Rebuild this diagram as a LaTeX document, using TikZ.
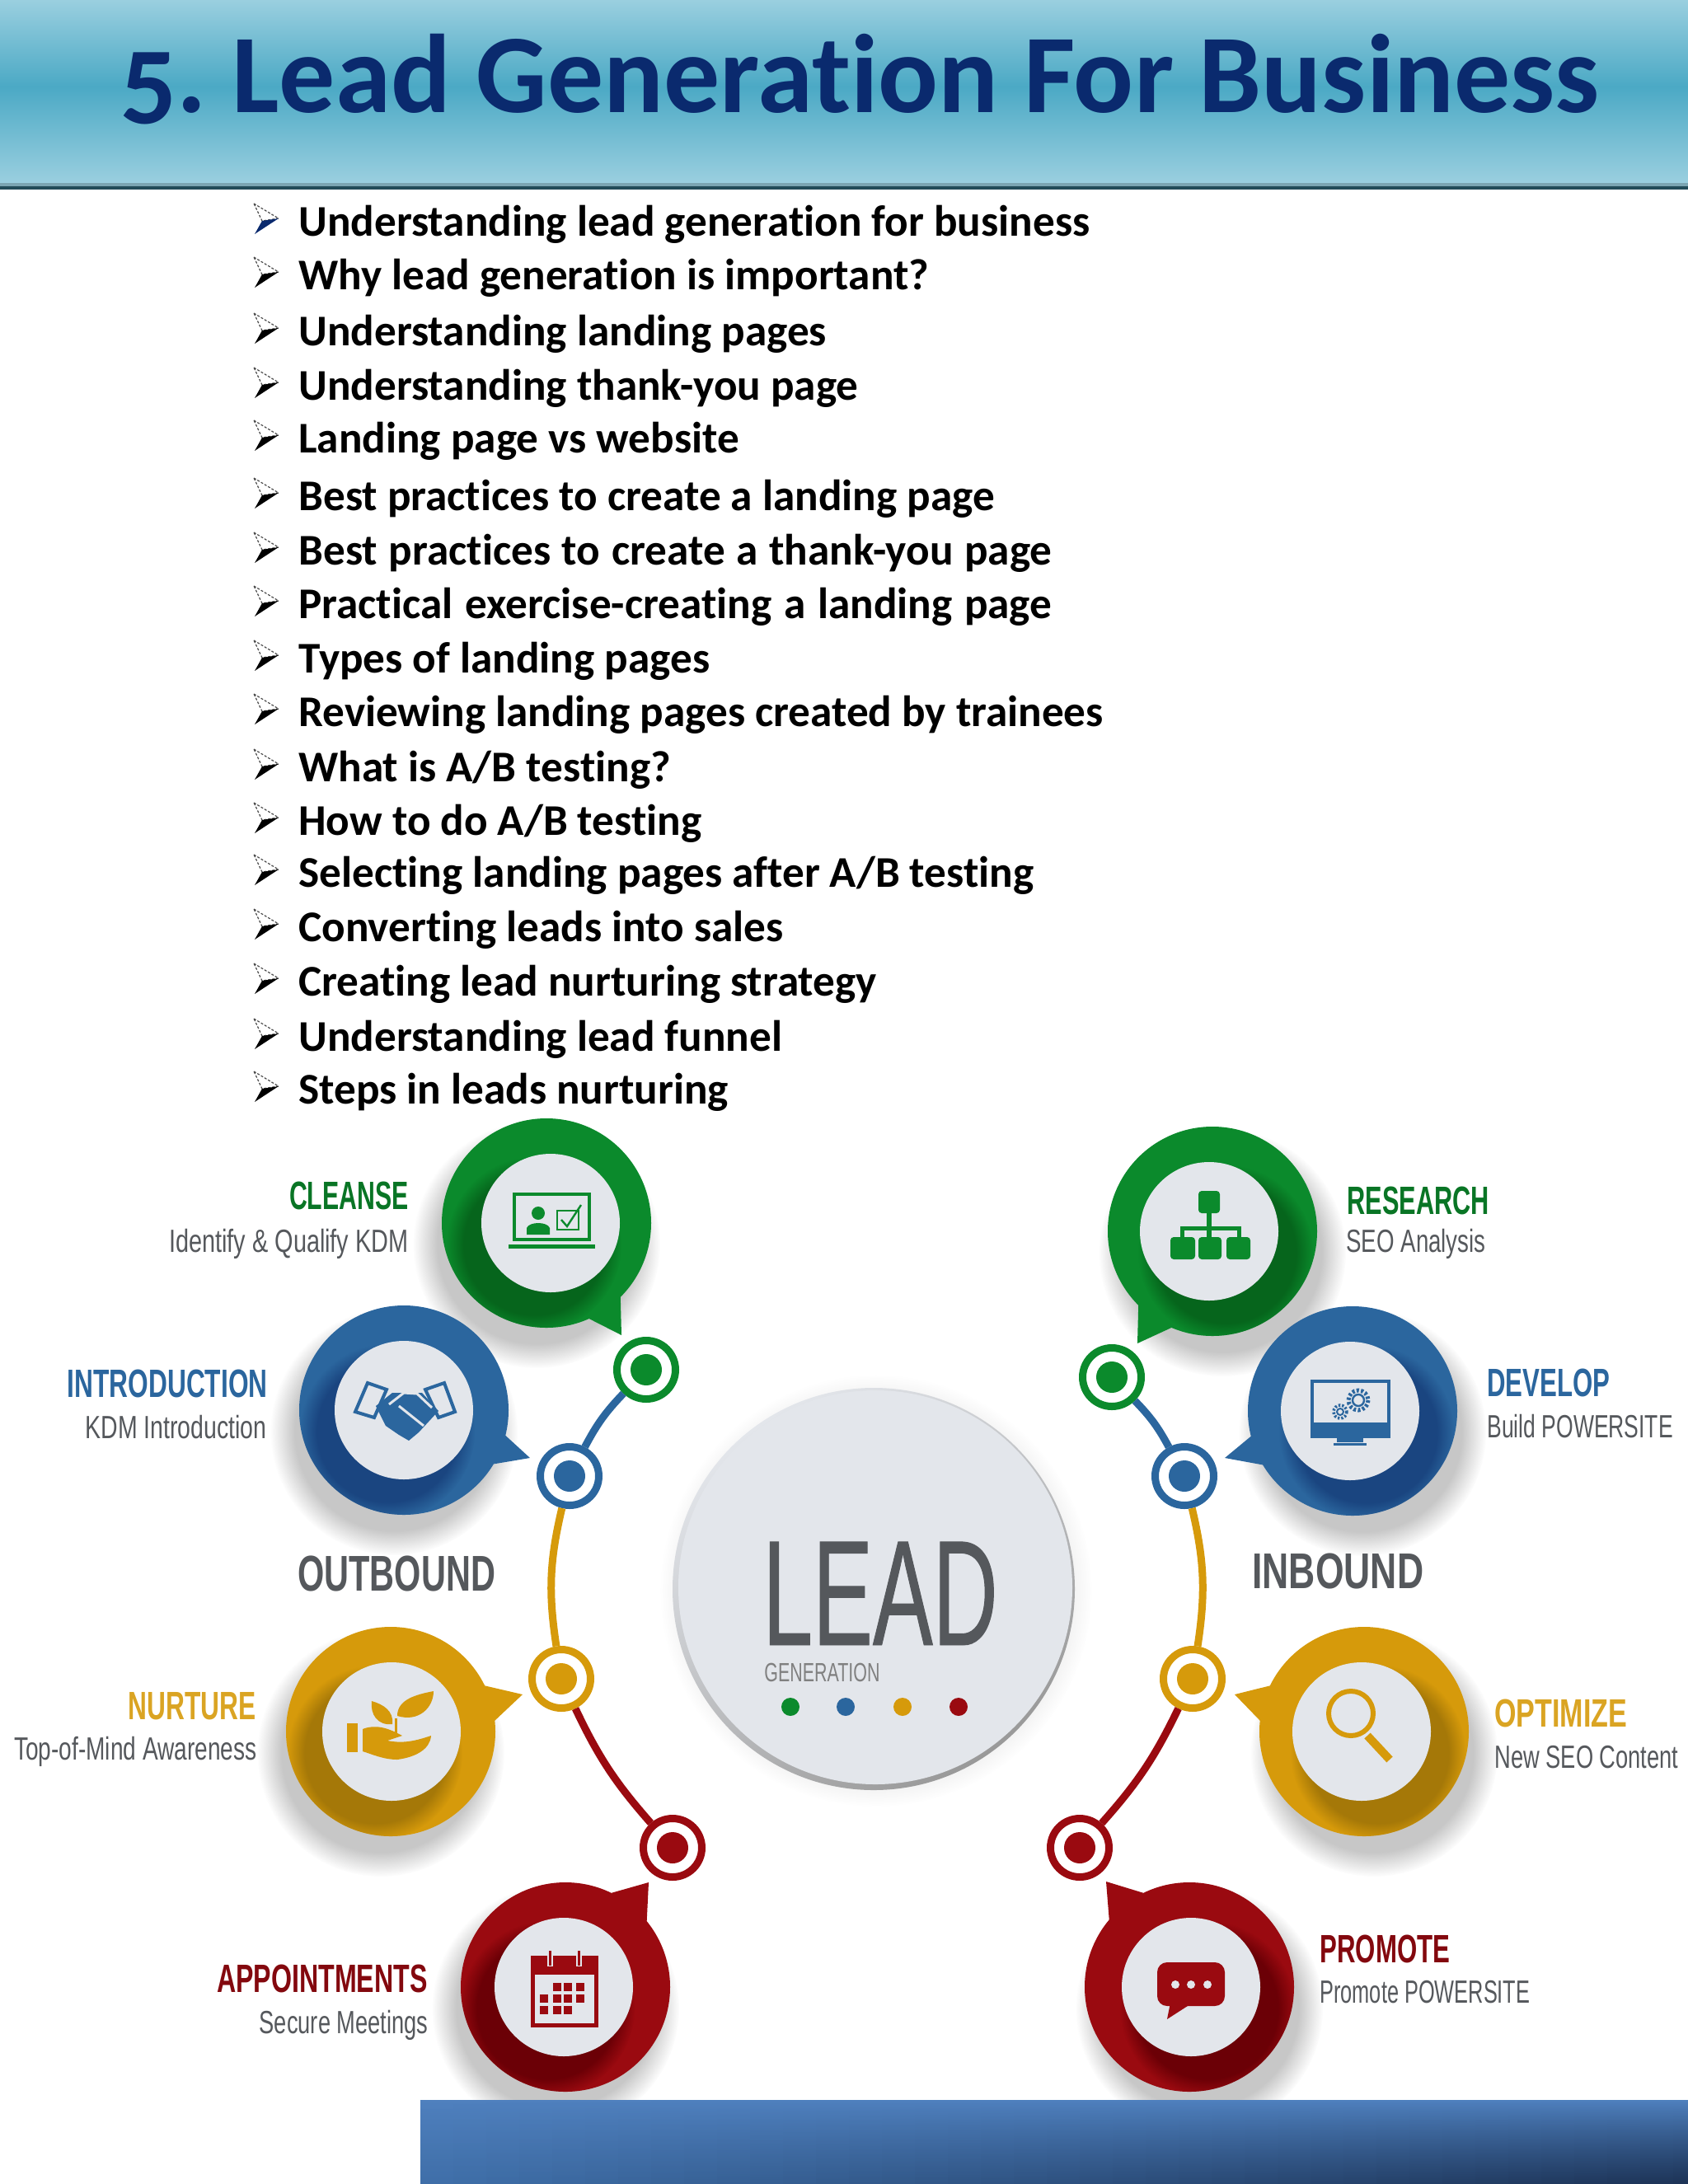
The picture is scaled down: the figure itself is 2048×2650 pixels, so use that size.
\documentclass[tikz,border=0pt]{standalone}
\usepackage{fontspec}
\usepackage{tikz}
\usepackage{xcolor}
\usetikzlibrary{fadings}
\setmainfont[Ligatures=NoCommon]{Carlito}
\newfontfamily\leadfont[FakeStretch=0.60,FakeBold=0.5]{Liberation Sans}
\newfontfamily\headfont[FakeStretch=0.66]{Liberation Sans}
\newfontfamily\subfont[FakeStretch=0.71]{Liberation Sans}
\definecolor{bandlight}{HTML}{9ACFDF}
\definecolor{bandmid}{HTML}{4BA9C5}
\definecolor{titleblue}{HTML}{0A2A6E}
\definecolor{leadgreen}{HTML}{0B8A2C}
\definecolor{darkgreen}{HTML}{06651C}
\definecolor{leadblue}{HTML}{2B669E}
\definecolor{darkblue}{HTML}{1A4580}
\definecolor{leadgold}{HTML}{D69A0B}
\definecolor{darkgold}{HTML}{A57808}
\definecolor{leadred}{HTML}{9A0A10}
\definecolor{darkred}{HTML}{6B0006}
\definecolor{facegrey}{HTML}{E3E6EB}
\definecolor{textgrey}{HTML}{55585C}
\definecolor{barlight}{HTML}{4F80BE}
\definecolor{barmid}{HTML}{4070AA}
\definecolor{bardark}{HTML}{1B2F50}

\begin{document}
\begin{tikzpicture}[x=0.5pt,y=-0.5pt,
bubble/.style={circle,fill=#1,minimum size=127pt,inner sep=0pt,outer sep=0pt},
face/.style={circle,fill=facegrey,minimum size=84pt,inner sep=0pt,outer sep=0pt},
ring/.style={circle,draw=#1,fill=white,line width=4.5pt,minimum size=35.5pt,inner sep=0pt,outer sep=2.25pt},
ringdot/.style={circle,fill=#1,minimum size=19pt,inner sep=0pt},
link/.style={draw=#1,line width=4.5pt},
spot/.style={circle,fill=#1,minimum size=11pt,inner sep=0pt},
item/.style={anchor=base west,inner sep=0pt,font=\bfseries\fontsize{26.6}{29}\selectfont},
head/.style={inner sep=0pt,text=#1,font=\headfont\bfseries\fontsize{24}{26}\selectfont},
sub/.style={inner sep=0pt,text=textgrey,font=\subfont\fontsize{19.5}{22}\selectfont},
side/.style={inner sep=0pt,text=textgrey,font=\headfont\bfseries\fontsize{30.5}{32}\selectfont}]
\useasboundingbox (0,0) rectangle (2048,2650);

% title band
\shade[top color=bandlight,bottom color=bandmid] (0,0) rectangle (2048,105);
\shade[top color=bandmid,bottom color=bandlight] (0,105) rectangle (2048,222);
\fill[bandlight!80!black] (0,222) rectangle (2048,226);
\fill[bandmid!45!black] (0,226) rectangle (2048,230);
\node (title) [anchor=base west,inner sep=0pt,text=titleblue,
    font=\bfseries\fontsize{67.9}{72}\selectfont] at (145,136) {\addfontfeature{Numbers=OldStyle}5.\hspace{-5pt} Lead Generation For Business};

% list
\foreach \i/\y/\t in {
1/286/{Understanding lead generation for business},
2/351/{Why lead generation is important?},
3/419/{Understanding landing pages},
4/485/{Understanding thank-you page},
5/549/{Landing page vs website},
6/619/{Best practices to create a landing page},
7/685/{\makebox[457pt][s]{Best practices to create a thank-you page}},
8/750/{\makebox[457pt][s]{Practical exercise-creating a landing page}},
9/816/{Types of landing pages},
10/881/{Reviewing landing pages created by trainees},
11/948/{What is A/B testing?},
12/1013/{How to do A/B testing},
13/1076/{Selecting landing pages after A/B testing},
14/1142/{Converting leads into sales},
15/1208/{Creating lead nurturing strategy},
16/1275/{Understanding lead funnel},
17/1339/{Steps in leads nurturing}}{
  \node (item\i) [item] at (362,\y) {\t};
  \draw[black!70,line width=0.6pt,dash pattern=on 1.5pt off 1pt] (308,\y-39) -- (338,\y-21) -- (318,\y-18) -- cycle;
  \ifnum\i=1 \fill[titleblue] (338,\y-21) -- (309,\y-2) -- (318,\y-18) -- cycle;
  \else \fill[black] (338,\y-21) -- (309,\y-2) -- (318,\y-18) -- cycle; \fi
}

% speech bubbles
\foreach \nm/\x/\y/\ix/\col/\dk/\a/\b/\tx/\ty/\s in {
cleanse/663/1484/668/leadgreen/darkgreen/-45/-66/754/1620/-1,
research/1471/1494/1467/leadgreen/darkgreen/225/247/1380/1630/1,
intro/490/1711/490/leadblue/darkblue/-14/-31/643/1769/-1,
develop/1641/1712/1638/leadblue/darkblue/194/211/1486/1769/1,
nurture/474/2101/475/leadgold/darkgold/26/6/634/2056/-1,
optimize/1655/2101/1652/leadgold/darkgold/154/174/1498/2056/1,
appoint/686/2411/684/leadred/darkred/64/39/787/2284/-1,
promote/1443/2411/1445/leadred/darkred/116/140/1342/2283/1}{
  \fill[black!22,path fading=circle with fuzzy edge 20 percent] (\x+\s*12,\y+26) circle (150);
  \node (\nm) [bubble=\col] at (\x,\y) {};
  \fill[\col] (\nm.\a) -- (\tx,\ty) -- (\nm.\b) -- cycle;
  \begin{scope}
    \clip (\x,\y) circle (127);
    \fill[\dk,path fading=circle with fuzzy edge 20 percent] (\ix+\s*20,\y+26) circle (106);
  \end{scope}
  \node (\nm-face) [face] at (\ix,\y) {};
}

% rings
\foreach \nm/\x/\y/\col in {
ringa/784/1662/leadgreen,ringb/691/1791/leadblue,ringc/681/2037/leadgold,ringd/816/2242/leadred,
ringe/1349/1671/leadgreen,ringf/1437/1791/leadblue,ringg/1447/2037/leadgold,ringh/1310/2242/leadred}{
  \node (\nm) [ring=\col] at (\x,\y) {};
  \node (\nm-dot) [ringdot=\col] at (\x,\y) {};
}
\draw[link=leadblue] (ringa) to[bend right=8] (ringb);
\draw[link=leadgold] (ringb) to[bend right=11] (ringc);
\draw[link=leadred] (ringc) to[bend right=8] (ringd);
\draw[link=leadblue] (ringe) to[bend left=8] (ringf);
\draw[link=leadgold] (ringf) to[bend left=11] (ringg);
\draw[link=leadred] (ringg) to[bend left=8] (ringh);

% centre disc
\fill[black!8,path fading=circle with fuzzy edge 15 percent] (1063,1930) circle (262);
\shade[top color=facegrey,bottom color=black!40,shading angle=35] (1060,1928) circle (244);
\node (disc) [circle,fill=facegrey,minimum size=239pt,inner sep=0pt] at (1062,1926) {};
\node (lead) [anchor=base west,inner sep=0pt,text=textgrey,font=\leadfont\fontsize{91}{95}\selectfont] at (925,1996) {LEAD};
\node (gen) [anchor=base west,inner sep=0pt,text=black!50,font=\subfont\fontsize{16}{18}\selectfont] at (927,2040) {\addfontfeature{FakeStretch=0.67}GENERATION};
\node (spota) [spot=leadgreen] at (959,2071) {};
\node (spotb) [spot=leadblue] at (1026,2071) {};
\node (spotc) [spot=leadgold] at (1095,2071) {};
\node (spotd) [spot=leadred] at (1163,2071) {};

% labels
\node (cleansehead) [head=leadgreen!85!black,anchor=base east] at (496,1467) {\addfontfeature{FakeStretch=0.63}CLEANSE};
\node (cleansesub) [sub,anchor=base east] at (496,1519) {\addfontfeature{FakeStretch=0.74}Identify \& Qualify KDM};
\node (introhead) [head=leadblue,anchor=base east] at (325,1695) {INTRODUCTION};
\node (introsub) [sub,anchor=base east] at (324,1745) {\addfontfeature{FakeStretch=0.73}KDM Introduction};
\node (nurturehead) [head=leadgold!90!white,anchor=base east] at (311,2086) {NURTURE};
\node (nurturesub) [sub,anchor=base east] at (312,2135) {\addfontfeature{FakeStretch=0.72}Top-of-Mind Awareness};
\node (appointhead) [head=leadred!85!black,anchor=base east] at (519,2417) {\addfontfeature{FakeStretch=0.67}APPOINTMENTS};
\node (appointsub) [sub,anchor=base east] at (520,2467) {\addfontfeature{FakeStretch=0.70}Secure Meetings};
\node (researchhead) [head=leadgreen!85!black,anchor=base west] at (1634,1473) {\addfontfeature{FakeStretch=0.64}RESEARCH};
\node (researchsub) [sub,anchor=base west] at (1633,1519) {SEO Analysis};
\node (develophead) [head=leadblue,anchor=base west] at (1804,1694) {\addfontfeature{FakeStretch=0.65}DEVELOP};
\node (developsub) [sub,anchor=base west] at (1804,1744) {\addfontfeature{FakeStretch=0.68}Build POWERSITE};
\node (optimizehead) [head=leadgold!90!white,anchor=base west] at (1813,2095) {\addfontfeature{FakeStretch=0.71}OPTIMIZE};
\node (optimizesub) [sub,anchor=base west] at (1813,2145) {\addfontfeature{FakeStretch=0.70}New SEO Content};
\node (promotehead) [head=leadred!85!black,anchor=base west] at (1601,2381) {\addfontfeature{FakeStretch=0.65}PROMOTE};
\node (promotesub) [sub,anchor=base west] at (1601,2430) {\addfontfeature{FakeStretch=0.65}Promote POWERSITE};
\node (outbound) [side,anchor=base west] at (361,1930) {\addfontfeature{FakeStretch=0.68}OUTBOUND};
\node (inbound) [side,anchor=base west] at (1519,1927) {\addfontfeature{FakeStretch=0.73}INBOUND};

% icon: laptop
\draw[leadgreen,line width=2pt] (624,1449) rectangle (715,1504);
\draw[leadgreen,line width=2.5pt] (617,1512) -- (722,1512);
\fill[leadgreen] (653,1472) circle (8);
\fill[leadgreen] (639,1498) -- (639,1490) .. controls (642,1482) and (664,1482) .. (667,1490) -- (667,1498) -- cycle;
\draw[leadgreen,line width=1pt] (676,1469) rectangle (702,1492);
\draw[leadgreen,line width=1.2pt] (681,1480) -- (688,1488) -- (705,1462);

% icon: handshake
\draw[leadblue,line width=2pt] (431,1713) -- (446,1678) -- (469,1686) -- (454,1720) -- cycle;
\draw[leadblue,line width=2pt] (516,1686) -- (539,1678) -- (552,1713) -- (532,1720) -- cycle;
\fill[leadblue] (456,1706) -- (476,1690) -- (512,1690) -- (532,1712) -- (508,1738) -- (496,1748) -- (484,1741) -- (468,1730) -- cycle;
\draw[facegrey,line width=1.5pt] (472,1704) -- (490,1690) -- (506,1691) -- (524,1708);
\draw[facegrey,line width=1.5pt] (484,1706) -- (514,1730);

% icon: plant in hand
\fill[leadgold] (421,2091) rectangle (434,2126);
\fill[leadgold] (440,2098) .. controls (455,2092) and (470,2096) .. (488,2106) -- (470,2112)
    .. controls (490,2116) and (505,2112) .. (523,2106) .. controls (522,2122) and (505,2132) .. (482,2135)
    .. controls (465,2135) and (450,2128) .. (440,2125) -- cycle;
\fill[leadgold] (482,2082) .. controls (482,2062) and (505,2056) .. (526,2052) .. controls (526,2072) and (508,2090) .. (482,2082) -- cycle;
\fill[leadgold] (476,2092) .. controls (478,2076) and (465,2068) .. (451,2064) .. controls (449,2080) and (458,2094) .. (476,2092) -- cycle;
\draw[leadgold,line width=1.5pt] (480,2108) -- (480,2085);

% icon: calendar
\draw[leadred,line width=2.5pt] (646,2375) rectangle (723,2457);
\fill[leadred] (646,2375) rectangle (723,2396);
\draw[facegrey,line width=3.5pt] (667,2364) -- (667,2386);
\draw[facegrey,line width=3.5pt] (702,2364) -- (702,2386);
\draw[leadred,line width=1.5pt] (667,2367) -- (667,2385);
\draw[leadred,line width=1.5pt] (702,2367) -- (702,2385);
\foreach \px/\py in {676/2411,689/2411,704/2411,660/2425,676/2425,689/2425,704/2425,660/2439,676/2439,689/2439}{
  \fill[leadred] (\px-5,\py-5) rectangle (\px+5,\py+5);
}

% icon: org chart
\fill[leadgreen,rounded corners=2pt] (1454,1445) rectangle (1480,1472);
\draw[leadgreen,line width=3pt] (1467,1470) -- (1467,1503);
\draw[leadgreen,line width=2.5pt] (1434,1503) -- (1434,1490) -- (1503,1490) -- (1503,1503);
\fill[leadgreen,rounded corners=2pt] (1420,1501) rectangle (1450,1528);
\fill[leadgreen,rounded corners=2pt] (1454,1501) rectangle (1482,1528);
\fill[leadgreen,rounded corners=2pt] (1488,1501) rectangle (1517,1528);

% icon: monitor
\draw[leadblue,line width=2pt] (1592,1676) rectangle (1685,1730);
\fill[leadblue] (1590,1726) rectangle (1687,1745);
\fill[leadblue] (1622,1745) rectangle (1654,1750);
\fill[leadblue] (1618,1751) rectangle (1658,1754);
\draw[leadblue,line width=2.5pt,dash pattern=on 1.5pt off 1.2pt] (1648,1699) circle (12);
\draw[leadblue,line width=1.2pt] (1648,1699) circle (7);
\draw[leadblue,line width=1.8pt,dash pattern=on 1.2pt off 1pt] (1626,1713) circle (8);
\draw[leadblue,line width=1pt] (1626,1713) circle (4);

% icon: magnifier
\draw[leadgold,line width=3pt] (1639,2079) circle (27);
\draw[leadgold,line width=5pt] (1659,2106) -- (1686,2135);

% icon: chat
\fill[leadred,rounded corners=6pt] (1404,2381) rectangle (1486,2434);
\fill[leadred] (1420,2430) -- (1416,2450) -- (1444,2432) -- cycle;
\foreach \px in {1426,1445,1465}{
  \fill[facegrey] (\px,2408) circle (5);
}

% bottom bar
\shade[top color=barlight,bottom color=barmid] (510,2548) rectangle (2048,2650);
\begin{scope}
  \clip (510,2548) rectangle (2048,2650);
  \foreach \k [evaluate=\k as \op using 0.02+0.024*\k] in {0,...,38}{
    \fill[bardark,opacity=\op,path fading=north] (510+40*\k,2548) rectangle (550+40*\k,2650);
  }
\end{scope}
\end{tikzpicture}
\end{document}
